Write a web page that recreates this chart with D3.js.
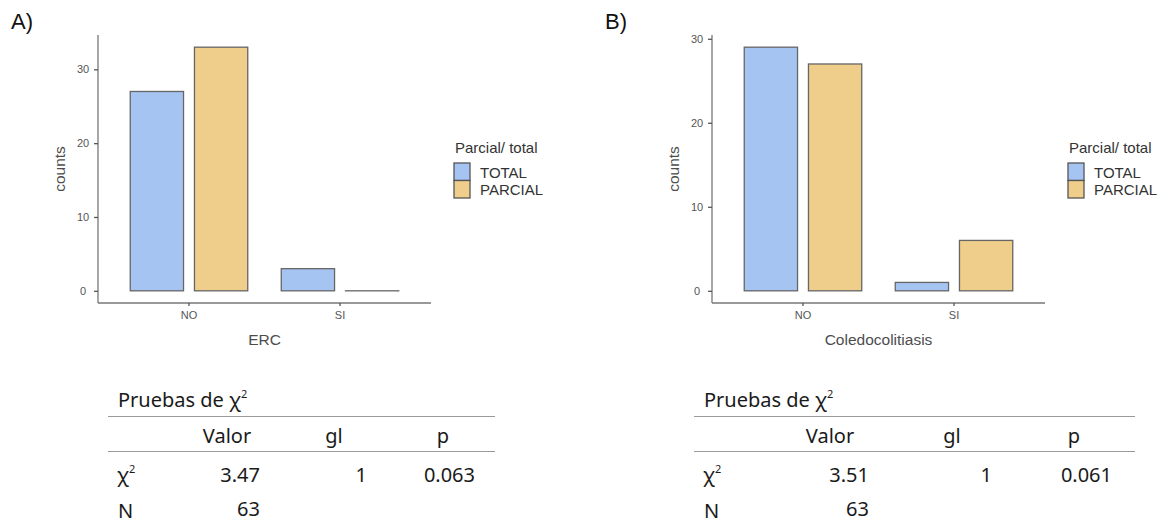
<!DOCTYPE html>
<html>
<head>
<meta charset="utf-8">
<script src="https://cdn.jsdelivr.net/npm/d3@7"></script>
<style>
  body { margin: 0; background: #fff; }
  svg { display: block; }
</style>
</head>
<body>
<svg id="chart" width="1163" height="529"></svg>
<script>
// data
const categories = ["NO", "SI"];
const groups = ["TOTAL", "PARCIAL"];
const ercTotal = [27, 3];
const ercParcial = [33, 0];
const coledoTotal = [29, 1];
const coledoParcial = [27, 6];

const tableHeaders = ["Valor", "gl", "p"];
const chiA = ["3.47", "1", "0.063"];
const chiB = ["3.51", "1", "0.061"];
const nA = "63";
const nB = "63";

const colors = { TOTAL: "#a6c4f1", PARCIAL: "#efcd8b" };
const plotFont = "'Liberation Sans', Arial, sans-serif";

const svg = d3.select("#chart");

// one grouped bar panel
function drawPanel(cfg) {
    const left = cfg.left, right = cfg.left + 333;
    const top = 35, bottom = 303;

    const rows = categories.map((c, i) => ({ cat: c, TOTAL: cfg.total[i], PARCIAL: cfg.parcial[i] }));
    const maxVal = d3.max(rows, d => Math.max(d.TOTAL, d.PARCIAL));

    const x = d3.scaleBand()
        .domain(categories)
        .range([left, right])
        .paddingInner(0.222)
        .paddingOuter(0.2135);

    const xSub = d3.scaleBand()
        .domain(groups)
        .range([0, x.bandwidth()])
        .paddingInner(0.17);

    // ggplot style 5% expansion
    const y = d3.scaleLinear()
        .domain([-0.05 * maxVal, 1.05 * maxVal])
        .range([bottom, top]);

    const g = svg.append("g");

    // panel letter
    g.append("text")
        .attr("x", cfg.labelX)
        .attr("y", 29)
        .style("font-family", plotFont)
        .style("font-size", "22px")
        .attr("fill", "#111")
        .text(cfg.label);

    // bars
    const catG = g.selectAll(".cat")
        .data(rows)
        .enter()
        .append("g")
        .attr("transform", d => `translate(${x(d.cat)},0)`);

    catG.selectAll("rect")
        .data(d => groups.map(k => ({ key: k, value: d[k] })))
        .enter()
        .append("rect")
        .attr("x", d => xSub(d.key))
        .attr("y", d => y(d.value))
        .attr("width", xSub.bandwidth())
        .attr("height", d => Math.max(y(0) - y(d.value), 0.01))
        .attr("fill", d => colors[d.key])
        .attr("stroke", "#666")
        .attr("stroke-width", 1.3);

    // axes
    const yAxis = d3.axisLeft(y)
        .tickValues(d3.range(0, y.domain()[1], 10))
        .tickSize(4)
        .tickPadding(3);
    const yG = g.append("g")
        .attr("transform", `translate(${left},0)`)
        .call(yAxis);
    yG.select(".domain").attr("d", `M0,${top}V${bottom}`);

    const xAxis = d3.axisBottom(x).tickSize(3).tickPadding(5);
    const xG = g.append("g")
        .attr("transform", `translate(0,${bottom})`)
        .call(xAxis);
    xG.select(".domain").attr("d", `M${left},0H${right}`);

    [yG, xG].forEach(a => {
        a.attr("font-family", plotFont);
        a.select(".domain").attr("stroke", "#777").attr("stroke-width", 1.3);
        a.selectAll(".tick line").attr("stroke", "#555").attr("stroke-width", 1.3);
        a.selectAll(".tick text")
            .attr("fill", "#555")
            .style("font-family", plotFont)
            .style("font-size", "11px");
    });
    yG.selectAll(".tick text").attr("text-anchor", "middle").attr("x", -15);

    // axis titles
    g.append("text")
        .attr("x", (left + right) / 2)
        .attr("y", 345)
        .attr("text-anchor", "middle")
        .attr("fill", "#4d4d4d")
        .style("font-family", plotFont)
        .style("font-size", "15.5px")
        .text(cfg.xTitle);

    g.append("text")
        .attr("transform", `translate(${left - 33},${(top + bottom) / 2}) rotate(-90)`)
        .attr("text-anchor", "middle")
        .attr("fill", "#4d4d4d")
        .style("font-family", plotFont)
        .style("font-size", "15.5px")
        .text("counts");

    // legend
    const lx = left + 356;
    const leg = g.append("g");
    leg.append("text")
        .attr("x", lx + 1)
        .attr("y", 153)
        .attr("fill", "#333")
        .style("font-family", plotFont)
        .style("font-size", "15px")
        .text("Parcial/ total");

    groups.forEach((k, i) => {
        leg.append("rect")
            .attr("x", lx)
            .attr("y", 163 + i * 17.5)
            .attr("width", 16)
            .attr("height", 17.5)
            .attr("fill", colors[k])
            .attr("stroke", "#555")
            .attr("stroke-width", 1.3);
        leg.append("text")
            .attr("x", lx + 26)
            .attr("y", 177.5 + i * 17.5)
            .attr("fill", "#333")
            .style("font-family", plotFont)
            .style("font-size", "15px")
            .text(k);
    });
}

// chi-square table below each panel
function drawTable(cfg) {
    const g = svg.append("g")
        .style("font-family", "'Noto Sans', 'Open Sans', sans-serif")
        .style("font-size", "20px")
        .attr("fill", "#1a1a1a");

    const title = g.append("text").attr("x", cfg.left).attr("y", 407);
    title.append("tspan").text("Pruebas de χ");
    title.append("tspan").attr("dy", -9).style("font-size", "11px").text("2");

    [416.5, 451.5].forEach(yy => {
        g.append("line")
            .attr("x1", cfg.lineX[0]).attr("x2", cfg.lineX[1])
            .attr("y1", yy).attr("y2", yy)
            .attr("stroke", "#9a9a9a")
            .attr("stroke-width", 1.2);
    });

    g.selectAll(".hdr")
        .data(tableHeaders)
        .enter()
        .append("text")
        .attr("x", (d, i) => cfg.headX[i])
        .attr("y", 443)
        .attr("text-anchor", "middle")
        .text(d => d);

    const chiLabel = g.append("text").attr("x", cfg.left - 1).attr("y", 482);
    chiLabel.append("tspan").text("χ");
    chiLabel.append("tspan").attr("dy", -9).style("font-size", "11px").text("2");

    g.selectAll(".val")
        .data(cfg.chi)
        .enter()
        .append("text")
        .attr("x", (d, i) => cfg.valX[i])
        .attr("y", 482)
        .attr("text-anchor", "end")
        .text(d => d);

    g.append("text").attr("x", cfg.left).attr("y", 518).text("N");
    g.append("text")
        .attr("x", cfg.valX[0])
        .attr("y", 516)
        .attr("text-anchor", "end")
        .text(cfg.n);
}

drawPanel({ left: 98, label: "A)", labelX: 11, xTitle: "ERC", total: ercTotal, parcial: ercParcial });
drawPanel({ left: 712, label: "B)", labelX: 605, xTitle: "Coledocolitiasis", total: coledoTotal, parcial: coledoParcial });

drawTable({ left: 118, lineX: [108, 495], headX: [227, 334, 443], valX: [260, 367, 475], chi: chiA, n: nA });
drawTable({ left: 704, lineX: [694, 1135], headX: [830, 952, 1074], valX: [869, 992, 1112], chi: chiB, n: nB });
</script>
</body>
</html>
